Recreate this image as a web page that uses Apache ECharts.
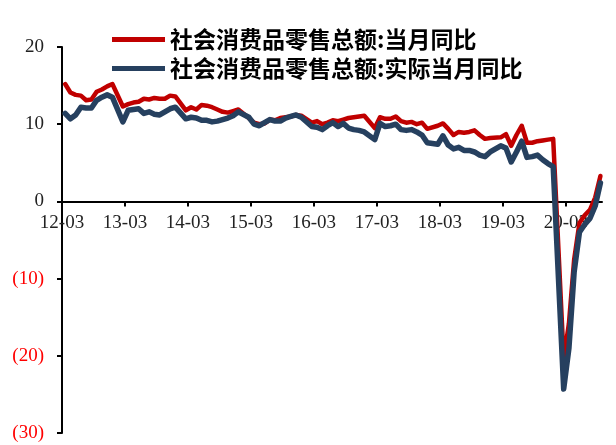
<!DOCTYPE html>
<html>
<head>
<meta charset="utf-8">
<script src="https://cdn.jsdelivr.net/npm/echarts@6/dist/echarts.min.js"></script>
<style>
  html, body { margin: 0; padding: 0; background: #fff; }
  #chart { width: 616px; height: 445px; }
</style>
</head>
<body>
<div id="chart"></div>
<script>
// series names (legend)
const seriesNames = ['社会消费品零售总额:当月同比', '社会消费品零售总额:实际当月同比'];

// x tick labels, one per year (March)
const xTickLabels = ['12-03', '13-03', '14-03', '15-03', '16-03', '17-03', '18-03', '19-03', '20-03'];

// y axis
const yMin = -30, yMax = 20, yStep = 10;

// monthly values, Mar 2012 .. Sep 2020 (January is merged into February)
const nominal = [
  15.2, 14.1, 13.8, 13.7, 13.1, 13.2, 14.2, 14.5, 14.9, 15.2,         // 2012 Mar-Dec
  12.3, 12.6, 12.8, 12.9, 13.3, 13.2, 13.4, 13.3, 13.3, 13.7, 13.6,   // 2013 Feb-Dec
  11.8, 12.2, 11.9, 12.5, 12.4, 12.2, 11.9, 11.6, 11.5, 11.7, 11.9,   // 2014
  10.8, 10.2, 10.0, 10.1, 10.6, 10.5, 10.8, 10.9, 11.0, 11.2, 11.1,   // 2015
  10.2, 10.4, 10.0, 10.2, 10.5, 10.4, 10.6, 10.8, 10.9, 11.0, 11.1,   // 2016
  9.5, 10.9, 10.7, 10.7, 11.0, 10.4, 10.2, 10.3, 10.0, 10.2, 9.4,     // 2017
  9.8, 10.1, 9.4, 8.6, 9.0, 8.9, 9.0, 9.2, 8.6, 8.1, 8.2,             // 2018
  8.3, 8.7, 7.2, 8.6, 9.8, 7.6, 7.6, 7.8, 7.9, 8.0, 8.1,              // 2019
  -20.5, -15.8, -7.5, -2.8, -1.8, -1.1, 0.5, 3.3                      // 2020 Feb-Sep
];
const real = [
  11.4, 10.7, 11.2, 12.2, 12.1, 12.1, 13.1, 13.5, 13.8, 13.5,         // 2012 Mar-Dec
  10.3, 11.8, 11.9, 12.0, 11.4, 11.6, 11.3, 11.2, 11.6, 12.0, 12.2,   // 2013 Feb-Dec
  10.7, 10.9, 10.8, 10.5, 10.5, 10.3, 10.4, 10.6, 10.8, 11.1, 11.6,   // 2014
  10.9, 10.0, 9.8, 10.2, 10.6, 10.4, 10.4, 10.8, 11.0, 11.2, 10.9,    // 2015
  9.7, 9.6, 9.3, 9.8, 10.2, 9.7, 10.1, 9.5, 9.3, 9.2, 9.0,            // 2016
  8.0, 10.1, 9.7, 9.8, 10.0, 9.3, 9.2, 9.3, 9.0, 8.6, 7.6,            // 2017
  7.4, 8.5, 7.3, 6.8, 7.0, 6.6, 6.6, 6.4, 6.0, 5.8, 6.4,              // 2018
  7.2, 6.9, 5.1, 6.4, 7.8, 5.7, 5.8, 6.0, 5.4, 4.9, 4.5,              // 2019
  -24.3, -19.0, -9.1, -4.0, -3.0, -2.2, -0.6, 2.4                     // 2020 Feb-Sep
];

// list of [year, month] matching the arrays above
const months = [];
for (let y = 2012; y <= 2020; y++) {
  for (let m = 2; m <= 12; m++) {
    if (y === 2012 && m < 3) continue;
    if (y === 2020 && m > 9) continue;
    months.push([y, m]);
  }
}

// x is months since 2012-03, points sit a bit after the start of their month
const xOf = ([y, m]) => (y - 2012) * 12 + (m - 3) + 0.6;
const tickVals = xTickLabels.map((_, i) => i * 12);

const W = 616, H = 445;
const grid = { left: 62, right: 14, top: 47, bottom: 12 };
// move the x axis (line, ticks, labels) up from the grid bottom to y = 0
const plotH = H - grid.top - grid.bottom;
const zeroOffset = -plotH * (0 - yMin) / (yMax - yMin);

const chart = echarts.init(document.getElementById('chart'));
const serif = '"Liberation Serif", "DejaVu Serif", serif';

chart.setOption({
  animation: false,
  backgroundColor: '#fff',
  grid: Object.assign({ outerBoundsMode: 'none' }, grid),
  legend: {
    orient: 'vertical',
    left: 112,
    top: 28,
    padding: 0,
    itemGap: 6,
    itemWidth: 53,
    itemHeight: 5,
    icon: 'rect',
    data: seriesNames,
    textStyle: { fontFamily: '"Noto Sans CJK SC"', fontSize: 23, fontWeight: 'bold', color: '#000' }
  },
  xAxis: {
    type: 'value',
    min: 0,
    max: 102.9,
    position: 'bottom',
    offset: zeroOffset,
    splitLine: { show: false },
    axisLine: { onZero: false, lineStyle: { color: '#000', width: 2 } },
    axisTick: { customValues: tickVals, length: 5, lineStyle: { color: '#000', width: 2 } },
    axisLabel: {
      customValues: tickVals,
      margin: 12,
      fontFamily: serif,
      fontSize: 19,
      color: '#222',
      formatter: v => xTickLabels[Math.round(v / 12)]
    }
  },
  yAxis: {
    type: 'value',
    min: yMin,
    max: yMax,
    interval: yStep,
    splitLine: { show: false },
    axisLine: { show: true, onZero: false, lineStyle: { color: '#000', width: 2 } },
    axisTick: { show: true, length: 5, lineStyle: { color: '#000', width: 2 } },
    axisLabel: {
      margin: 18,
      fontFamily: serif,
      fontSize: 19,
      color: v => (v < 0 ? '#FF0000' : '#222'),
      formatter: v => (v < 0 ? '(' + (-v) + ')' : String(v))
    }
  },
  series: [
    {
      name: seriesNames[0],
      type: 'line',
      symbol: 'none',
      color: '#C00000',
      lineStyle: { width: 4.5, join: 'round', cap: 'round' },
      data: months.map((d, i) => [xOf(d), nominal[i]])
    },
    {
      name: seriesNames[1],
      type: 'line',
      symbol: 'none',
      color: '#26405F',
      lineStyle: { width: 5.5, join: 'round', cap: 'round' },
      data: months.map((d, i) => [xOf(d), real[i]])
    }
  ]
});
</script>
</body>
</html>
